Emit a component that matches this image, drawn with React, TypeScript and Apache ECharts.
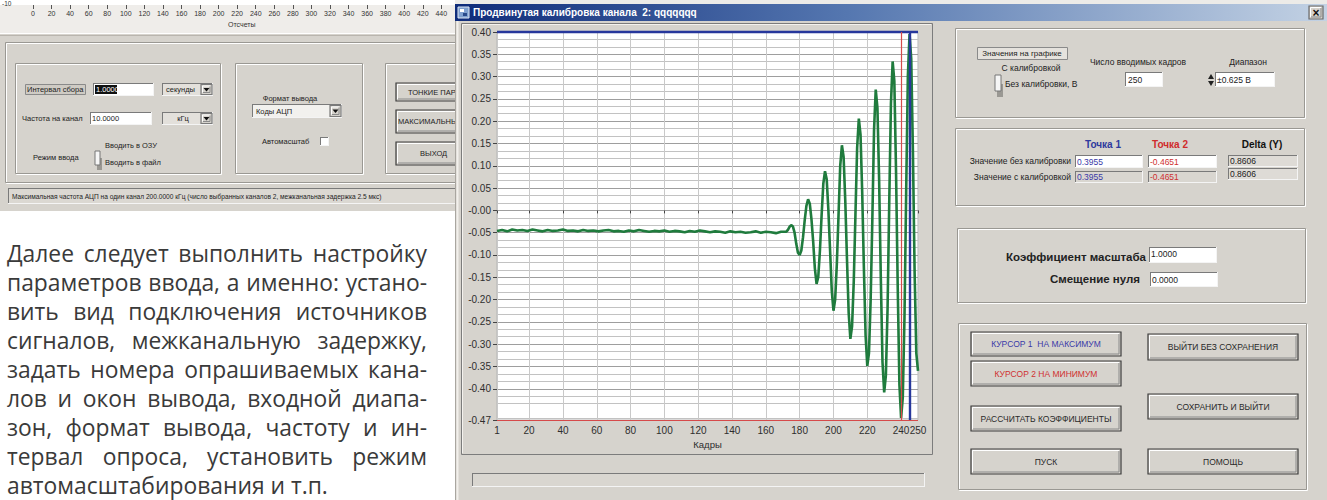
import React, { useEffect, useRef } from 'react';
import * as echarts from 'echarts';

// ---------- data ----------
const flatFrames = [1, 4, 7, 10, 13, 16, 19, 22, 25, 28, 31, 34, 37, 40, 43, 46, 49, 52, 55, 58, 61, 64, 67, 70, 73, 76, 79, 82, 85, 88, 91, 94, 97, 100, 103, 106, 109, 112, 115, 118, 121, 124, 127, 130, 133, 136, 139, 142, 145, 148, 151, 154, 157, 160, 163, 166, 169];
const flatValues = [
  -0.046, -0.044, -0.047, -0.043, -0.045, -0.044, -0.046, -0.043, -0.045, -0.047,
  -0.044, -0.046, -0.045, -0.043, -0.046, -0.045, -0.047, -0.044, -0.046, -0.045,
  -0.047, -0.045, -0.044, -0.047, -0.046, -0.048, -0.045, -0.047, -0.044, -0.046,
  -0.048, -0.046, -0.047, -0.045, -0.048, -0.046, -0.047, -0.049, -0.046, -0.048,
  -0.045, -0.047, -0.049, -0.047, -0.048, -0.050, -0.047, -0.049, -0.048, -0.050,
  -0.049, -0.047, -0.050, -0.048, -0.049, -0.051, -0.048,
];
const burstFrames = [172, 173, 174, 175, 176, 177, 178, 179, 180, 181, 182, 183, 184, 185, 186, 187, 188, 189, 190, 191, 192, 193, 194, 195, 196, 197, 198, 199, 200, 201, 202, 203, 204, 205, 206, 207, 208, 209, 210, 211, 212, 213, 214, 215, 216, 217, 218, 219, 220, 221, 222, 223, 224, 225, 226, 227, 228, 229, 230, 231, 232, 233, 234, 235, 236, 237, 238, 239, 240, 241, 242, 243, 244, 245, 246, 247, 248, 249, 250];
const burstValues = [
  -0.048, -0.044, -0.037, -0.033, -0.036, -0.050, -0.075, -0.095, -0.100, -0.090,
  -0.060, -0.022, 0.010, 0.025, 0.015, -0.020, -0.070, -0.130, -0.165, -0.150,
  -0.090, -0.010, 0.060, 0.088, 0.070, 0.000, -0.090, -0.180, -0.225, -0.200,
  -0.120, -0.010, 0.100, 0.146, 0.120, 0.020, -0.110, -0.230, -0.288, -0.260,
  -0.160, -0.010, 0.140, 0.206, 0.170, 0.040, -0.130, -0.280, -0.349, -0.320,
  -0.200, -0.020, 0.180, 0.271, 0.230, 0.070, -0.150, -0.340, -0.408, -0.370,
  -0.220, 0.020, 0.240, 0.334, 0.290, 0.090, -0.170, -0.390, -0.4651, -0.420,
  -0.240, 0.040, 0.300, 0.3955, 0.340, 0.130, -0.140, -0.320, -0.360,
];
const xTickLabels = [1, 20, 40, 60, 80, 100, 120, 140, 160, 180, 200, 220, 240, 250];
const yTickValues = [-0.47, -0.4, -0.35, -0.3, -0.25, -0.2, -0.15, -0.1, -0.05, 0, 0.05, 0.1, 0.15, 0.2, 0.25, 0.3, 0.35, 0.4];
const topAxisTicks = [0, 20, 40, 60, 80, 100, 120, 140, 160, 180, 200, 220, 240, 260, 280, 300, 320, 340, 360, 380, 400, 420, 440];
const cursor1 = { frame: 245, value: 0.3955 };
const cursor2 = { frame: 240, value: -0.4651 };

const paragraphLines = [
  'Далее следует выполнить настройку',
  'параметров ввода, а именно: устано-',
  'вить вид подключения источников',
  'сигналов, межканальную задержку,',
  'задать номера опрашиваемых кана-',
  'лов и окон вывода, входной диапа-',
  'зон, формат вывода, частоту и ин-',
  'тервал опроса, установить режим',
  'автомасштабирования и т.п.',
];

// ---------- styles ----------
const GRAY = '#d6d3cd';
const UI_FONT = "'Liberation Sans', Arial, sans-serif";
const NARROW = "'Liberation Sans Narrow', 'Liberation Sans', Arial, sans-serif";

function buildGraphic(): any[] {
  const els: any[] = [];
  const rect = (x: number, y: number, w: number, h: number, fill: any, stroke: string | null, lw: number, z: number) =>
    els.push({ type: 'rect', silent: true, z, shape: { x, y, width: w, height: h }, style: { fill, stroke: stroke || 'none', lineWidth: lw } });
  const line = (x1: number, y1: number, x2: number, y2: number, stroke: string, lw: number, z: number) =>
    els.push({ type: 'line', silent: true, z, shape: { x1, y1, x2, y2 }, style: { stroke, lineWidth: lw } });
  const txt = (x: number, y: number, text: string, o: any = {}) =>
    els.push({
      type: 'text', silent: true, z: o.z ?? 6, x, y,
      style: {
        text, fill: o.color || '#222', fontSize: o.size || 9, fontFamily: o.family || UI_FONT,
        fontWeight: o.weight || 'normal', textAlign: o.align || 'left', align: o.align || 'left',
        textVerticalAlign: 'middle', verticalAlign: 'middle',
      },
    });
  const raised = (x: number, y: number, w: number, h: number, z: number, border = '#3c3c3c') => {
    rect(x, y, w, h, GRAY, border, 1.2, z);
    line(x + 1.5, y + 1.5, x + w - 2, y + 1.5, '#ffffff', 1, z);
    line(x + 1.5, y + 1.5, x + 1.5, y + h - 2, '#ffffff', 1, z);
    line(x + 2, y + h - 2, x + w - 2, y + h - 2, '#8a8a8a', 1, z);
    line(x + w - 2, y + 2, x + w - 2, y + h - 2, '#8a8a8a', 1, z);
  };
  const sunken = (x: number, y: number, w: number, h: number, fill: string, z: number) => {
    rect(x, y, w, h, fill, null, 1, z);
    line(x, y + 0.5, x + w, y + 0.5, '#7a7a7a', 1, z);
    line(x + 0.5, y, x + 0.5, y + h, '#7a7a7a', 1, z);
    line(x, y + h - 0.5, x + w, y + h - 0.5, '#f4f4f4', 1, z);
    line(x + w - 0.5, y, x + w - 0.5, y + h, '#f4f4f4', 1, z);
  };
  const etched = (x: number, y: number, w: number, h: number, z: number) => {
    rect(x + 1.5, y + 1.5, w, h, 'none', '#ffffff', 1, z);
    rect(x + 0.5, y + 0.5, w, h, 'none', '#9a9893', 1, z);
  };
  const arrowBtn = (x: number, y: number, w: number, h: number, z: number) => {
    raised(x, y, w, h, z, '#7a7a7a');
    const cx = x + w / 2, cy = y + h / 2;
    els.push({ type: 'polygon', silent: true, z, shape: { points: [[cx - 3, cy - 1.5], [cx + 3, cy - 1.5], [cx, cy + 2]] }, style: { fill: '#111' } });
  };
  const button = (x: number, y: number, w: number, h: number, label: string, color: string, z: number) => {
    raised(x, y, w, h, z);
    txt(x + w / 2, y + h / 2, label, { size: 8.5, color, align: 'center', family: NARROW, z });
  };

  // ---------- left (background) window ----------
  const LZ = -20, LU = -18;
  rect(0, 0, 460, 33, '#efedea', null, 1, LZ);
  rect(0, 0, 460, 5, '#ffffff', null, 1, LZ);
  rect(0, 33, 460, 178, GRAY, null, 1, LZ);
  line(0, 33.5, 460, 33.5, '#ffffff', 1, LU);
  line(0, 35.5, 460, 35.5, '#b9b5ae', 1, LU);
  txt(2, 3, '-10', { size: 6.5, color: '#333', z: LU });
  etched(5, 42, 460, 140, LU);
  etched(15, 63, 205, 110, LU);
  etched(235, 63, 127, 110, LU);
  etched(385, 63, 90, 110, LU);
  // interval row
  rect(25.5, 84.5, 60, 10, '#cfcbc4', '#8a8a8a', 1, LU);
  txt(27, 89.5, 'Интервал сбора', { size: 7.5, color: '#222', z: LU });
  sunken(93, 83, 61, 13, '#ffffff', LU);
  rect(95, 85, 22, 9, '#111111', null, 1, LU);
  txt(96, 89.5, '1.0000', { size: 7.5, color: '#ffffff', z: LU });
  sunken(162, 83, 51, 13, '#e3e0db', LU);
  txt(166, 89.5, 'секунды', { size: 7.5, z: LU });
  arrowBtn(201, 84.5, 11, 10, LU);
  // frequency row
  txt(22, 118, 'Частота на канал', { size: 7.5, z: LU });
  sunken(90, 112, 62, 13, '#ffffff', LU);
  txt(92, 118.5, '10.0000', { size: 7.5, z: LU });
  sunken(162, 112, 51, 13, '#e3e0db', LU);
  txt(183, 118.5, 'кГц', { size: 7.5, align: 'center', z: LU });
  arrowBtn(201, 113.5, 11, 10, LU);
  // mode
  txt(105, 145, 'Вводить в ОЗУ', { size: 7.5, z: LU });
  txt(33, 157, 'Режим ввода', { size: 7.5, z: LU });
  rect(97, 158, 5, 12, '#9a9893', null, 1, LU);
  rect(95, 151, 5, 14, '#f6f6f6', '#777777', 1, LU);
  txt(105, 162, 'Вводить в файл', { size: 7.5, z: LU });
  // format panel
  txt(290, 98, 'Формат вывода', { size: 7.5, align: 'center', z: LU });
  sunken(252, 104, 90, 14, '#f2f1ee', LU);
  txt(256, 111, 'Коды АЦП', { size: 7.5, z: LU });
  arrowBtn(330, 105.5, 11, 11, LU);
  txt(262, 141, 'Автомасштаб', { size: 7.5, z: LU });
  sunken(320, 137, 9, 9, '#ffffff', LU);
  // buttons
  raised(396, 83, 80, 18, LU);
  txt(408, 92, 'ТОНКИЕ ПАРАМЕТРЫ', { size: 7.5, family: NARROW, z: LU });
  raised(396, 110, 80, 23, LU);
  txt(398, 121.5, 'МАКСИМАЛЬНЫЕ', { size: 7.5, family: NARROW, z: LU });
  raised(396, 142, 80, 23, LU);
  txt(420, 153.5, 'ВЫХОД', { size: 7.5, family: NARROW, z: LU });
  // status bar
  sunken(8, 188, 460, 16, '#dbd8d2', LU);
  txt(12, 196, 'Максимальная частота АЦП на один канал 200.0000 кГц (число выбранных каналов 2, межканальная задержка 2.5 мкс)', { size: 6.6, z: LU });

  // ---------- middle window ----------
  rect(455, 0, 872, 4, '#ecebe8', null, 1, -12);
  rect(455, 21, 872, 479, GRAY, null, 1, -10);
  line(455.5, 4, 455.5, 500, '#a9a6a0', 1, -9);
  line(457.5, 21, 457.5, 500, '#f2f0ec', 2, -9);
  rect(455, 4, 872, 17, new echarts.graphic.LinearGradient(0, 0, 1, 0, [
    { offset: 0, color: '#0f2c7a' }, { offset: 0.45, color: '#5577b0' }, { offset: 1, color: '#c3d2e4' },
  ]), null, 1, -9);
  rect(458, 7, 11, 11, '#7fa0d0', '#dfe8f4', 1, -8);
  rect(460, 9, 4, 3, '#ffffff', null, 1, -8);
  rect(463, 13, 4, 3, '#2a4a8a', null, 1, -8);
  txt(473, 12.5, 'Продвинутая калибровка канала  2: qqqqqqq', { size: 10, weight: 'bold', color: '#ffffff', z: -8 });
  raised(1309, 6, 14, 13, -8, '#6a6a6a');
  txt(1316, 12.5, '×', { size: 12, weight: 'bold', align: 'center', color: '#111', z: -8 });
  // chart frame
  rect(461.5, 23.5, 471, 431, GRAY, '#7c7c7c', 1, -9);
  line(462.5, 24.5, 931, 24.5, '#f4f2ee', 1, -9);
  line(462.5, 24.5, 462.5, 453, '#f4f2ee', 1, -9);
  sunken(472, 473, 453, 14, '#d9d6d0', -9);

  // ---------- right panel ----------
  const RZ = 5;
  etched(955, 28, 349, 89, RZ);
  rect(977.5, 47.5, 90, 12, '#e5e2dd', '#8a8a8a', 1, RZ);
  txt(1022, 53.5, 'Значения на графике', { size: 8, align: 'center', z: RZ });
  txt(1031, 68, 'С калибровкой', { size: 8.5, align: 'center', z: RZ });
  rect(997, 84, 6, 13, '#9a9893', null, 1, RZ);
  rect(995, 75, 6, 16, '#f6f6f6', '#777777', 1, RZ);
  txt(1005, 84, 'Без калибровки, В', { size: 8.5, z: RZ });
  txt(1138, 62, 'Число вводимых кадров', { size: 8.5, align: 'center', z: RZ });
  sunken(1125, 72, 38, 15, '#ffffff', RZ);
  txt(1128, 79.5, '250', { size: 8.5, z: RZ });
  txt(1248, 62, 'Диапазон', { size: 8.5, align: 'center', z: RZ });
  els.push({ type: 'polygon', silent: true, z: RZ, shape: { points: [[1208, 79], [1214, 79], [1211, 74]] }, style: { fill: '#222' } });
  els.push({ type: 'polygon', silent: true, z: RZ, shape: { points: [[1208, 81], [1214, 81], [1211, 86]] }, style: { fill: '#222' } });
  sunken(1215, 72, 60, 15, '#ffffff', RZ);
  txt(1217, 79.5, '±0.625 В', { size: 8.5, z: RZ });

  etched(955, 128, 349, 77, RZ);
  txt(1103, 144, 'Точка 1', { size: 10, weight: 'bold', color: '#2f3a9e', align: 'center', z: RZ });
  txt(1170, 144, 'Точка 2', { size: 10, weight: 'bold', color: '#d02c2c', align: 'center', z: RZ });
  txt(1262, 144, 'Delta (Y)', { size: 10, weight: 'bold', color: '#111', align: 'center', z: RZ });
  txt(1071, 161, 'Значение без калибровки', { size: 8.5, align: 'right', z: RZ });
  sunken(1075, 155, 68, 13, '#ffffff', RZ);
  txt(1077, 161.5, '0.3955', { size: 8.5, color: '#3a3aa8', z: RZ });
  sunken(1148, 155, 69, 13, '#ffffff', RZ);
  txt(1150, 161.5, '-0.4651', { size: 8.5, color: '#d03030', z: RZ });
  sunken(1228, 155, 70, 12, '#dedbd6', RZ);
  txt(1230, 161, '0.8606', { size: 8.5, z: RZ });
  txt(1071, 177, 'Значение с калибровкой', { size: 8.5, align: 'right', z: RZ });
  sunken(1075, 171, 68, 12, '#d9d6d0', RZ);
  txt(1077, 177, '0.3955', { size: 8.5, color: '#3a3aa8', z: RZ });
  sunken(1148, 171, 69, 12, '#d9d6d0', RZ);
  txt(1150, 177, '-0.4651', { size: 8.5, color: '#d03030', z: RZ });
  sunken(1228, 168, 70, 12, '#dedbd6', RZ);
  txt(1230, 174, '0.8606', { size: 8.5, z: RZ });

  etched(957, 228, 348, 74, RZ);
  txt(1146, 256.5, 'Коэффициент масштаба', { size: 11.5, weight: 'bold', align: 'right', color: '#222', z: RZ });
  sunken(1149, 247, 68, 16, '#ffffff', RZ);
  txt(1151, 254, '1.0000', { size: 8.5, z: RZ });
  txt(1140, 279, 'Смещение нуля', { size: 11.5, weight: 'bold', align: 'right', color: '#222', z: RZ });
  sunken(1150, 272, 68, 15, '#ffffff', RZ);
  txt(1152, 280, '0.0000', { size: 8.5, z: RZ });

  etched(958, 323, 348, 166, RZ);
  button(971, 332, 150, 24, 'КУРСОР 1  НА МАКСИМУМ', '#3a3aa8', RZ);
  button(971, 361, 150, 25, 'КУРСОР 2 НА МИНИМУМ', '#d03030', RZ);
  button(971, 406, 150, 25, 'РАССЧИТАТЬ КОЭФФИЦИЕНТЫ', '#2a2a2a', RZ);
  button(971, 449, 150, 25, 'ПУСК', '#2a2a2a', RZ);
  button(1148, 334, 150, 26, 'ВЫЙТИ БЕЗ СОХРАНЕНИЯ', '#2a2a2a', RZ);
  button(1148, 394, 150, 25, 'СОХРАНИТЬ И ВЫЙТИ', '#2a2a2a', RZ);
  button(1148, 449, 150, 25, 'ПОМОЩЬ', '#2a2a2a', RZ);

  // ---------- paragraph (justified) ----------
  const family = "'Open Sans'";
  const ctx = document.createElement('canvas').getContext('2d') as CanvasRenderingContext2D;
  ctx.font = `20px ${family}`;
  const lastW = ctx.measureText(paragraphLines[paragraphLines.length - 1]).width || 300;
  const fs = (20 * 321) / lastW;
  ctx.font = `${fs}px ${family}`;
  const left = 7, right = 427;
  paragraphLines.forEach((ln, i) => {
    const y = 253.5 + i * 29.0;
    const isLast = i === paragraphLines.length - 1;
    const words = ln.split(' ');
    const widths = words.map((w) => ctx.measureText(w).width);
    const total = widths.reduce((a, b) => a + b, 0);
    const gap = isLast ? ctx.measureText(' ').width : (right - left - total) / (words.length - 1);
    let x = left;
    words.forEach((w, k) => {
      els.push({
        type: 'text', silent: true, z: -18, x, y,
        style: { text: w, fill: '#3a3a3a', fontSize: fs, fontFamily: "'Open Sans', sans-serif", textAlign: 'left', align: 'left', textVerticalAlign: 'middle', verticalAlign: 'middle' },
      });
      x += widths[k] + gap;
    });
  });
  return els;
}

function buildOption(): any {
  const signal: number[][] = [];
  flatFrames.forEach((f, i) => signal.push([f, flatValues[i]]));
  burstFrames.forEach((f, i) => signal.push([f, burstValues[i]]));

  // minor horizontal grid: three divisions per 0.05
  const minorGrid: number[] = [];
  for (let k = 1; k < 60; k++) {
    const v = 0.4 - (k * 0.05) / 3;
    if (v <= -0.47) break;
    if (k % 3 !== 0) minorGrid.push(Number(v.toFixed(4)));
  }
  const labelStyle = { fontSize: 10, color: '#2e2e2e', fontFamily: UI_FONT };
  return {
    animation: false,
    grid: [
      { left: 497, top: 32, width: 421, height: 388, show: true, backgroundColor: '#ffffff', borderColor: '#b4b4b4', borderWidth: 1, z: 0 },
      { left: 33, top: 0, width: 417.6, height: 5, show: false },
    ],
    xAxis: [
      {
        gridIndex: 0, type: 'value', min: 1, max: 250,
        axisLine: { show: false },
        axisTick: { show: true, customValues: xTickLabels, length: 3, lineStyle: { color: '#444' } },
        axisLabel: { ...labelStyle, customValues: xTickLabels, margin: 5 },
        splitLine: { show: true, lineStyle: { color: '#c9c9c9', width: 1 } },
        name: 'Кадры', nameLocation: 'middle', nameGap: 18,
        nameTextStyle: { ...labelStyle, fontSize: 9.5 },
      },
      {
        gridIndex: 1, type: 'value', min: 0, max: 450,
        axisLine: { show: false },
        axisTick: { show: true, customValues: topAxisTicks, length: 4, lineStyle: { color: '#555' } },
        axisLabel: { fontSize: 7, color: '#333', fontFamily: UI_FONT, customValues: topAxisTicks, margin: 5 },
        splitLine: { show: false },
        name: 'Отсчеты', nameLocation: 'middle', nameGap: 16,
        nameTextStyle: { fontSize: 7, color: '#333', fontFamily: UI_FONT },
      },
    ],
    yAxis: [
      {
        gridIndex: 0, type: 'value', min: -0.47, max: 0.4,
        axisLine: { show: false },
        axisTick: { show: true, customValues: yTickValues, length: 4, lineStyle: { color: '#444' } },
        axisLabel: {
          ...labelStyle, customValues: yTickValues, margin: 6,
          formatter: (v: number) => { const s = v.toFixed(2); return s === '0.00' || s === '-0.00' ? '-0.00' : s; },
        },
        splitLine: { show: true, lineStyle: { color: '#9e9e9e', width: 1 } },
      },
      {
        gridIndex: 0, type: 'value', min: -0.47, max: 0.4, position: 'left',
        axisLine: { show: false },
        axisTick: { show: false, customValues: minorGrid },
        axisLabel: { show: false },
        splitLine: { show: true, lineStyle: { color: '#c2c2c2', width: 1 } },
      },
      { gridIndex: 1, type: 'value', show: false },
    ],
    series: [
      {
        type: 'line', xAxisIndex: 0, yAxisIndex: 0, data: signal,
        showSymbol: false, symbol: 'none', smooth: false, z: 3,
        lineStyle: { color: '#1f7b3d', width: 2.6 },
        markLine: {
          silent: true, symbol: ['none', 'none'], label: { show: false }, animation: false,
          data: [
            { yAxis: cursor1.value, lineStyle: { color: '#27379c', width: 2.4, type: 'solid' } },
            { xAxis: cursor1.frame, lineStyle: { color: '#27379c', width: 2.4, type: 'solid' } },
            { xAxis: cursor2.frame, lineStyle: { color: '#d64a4a', width: 1.2, type: 'solid' } },
            { yAxis: cursor2.value, lineStyle: { color: '#d64a4a', width: 1.2, type: 'solid' } },
          ],
        },
      },
    ],
    graphic: { elements: buildGraphic() },
  };
}

export default function App() {
  const ref = useRef<HTMLDivElement>(null);
  useEffect(() => {
    if (!ref.current) return;
    const chart = echarts.init(ref.current, undefined, { renderer: 'svg' });
    chart.setOption(buildOption());
    return () => chart.dispose();
  }, []);
  return (
    <div
      ref={ref}
      style={{ position: 'absolute', left: 0, top: 0, width: 1327, height: 500, background: '#ffffff' }}
    />
  );
}
